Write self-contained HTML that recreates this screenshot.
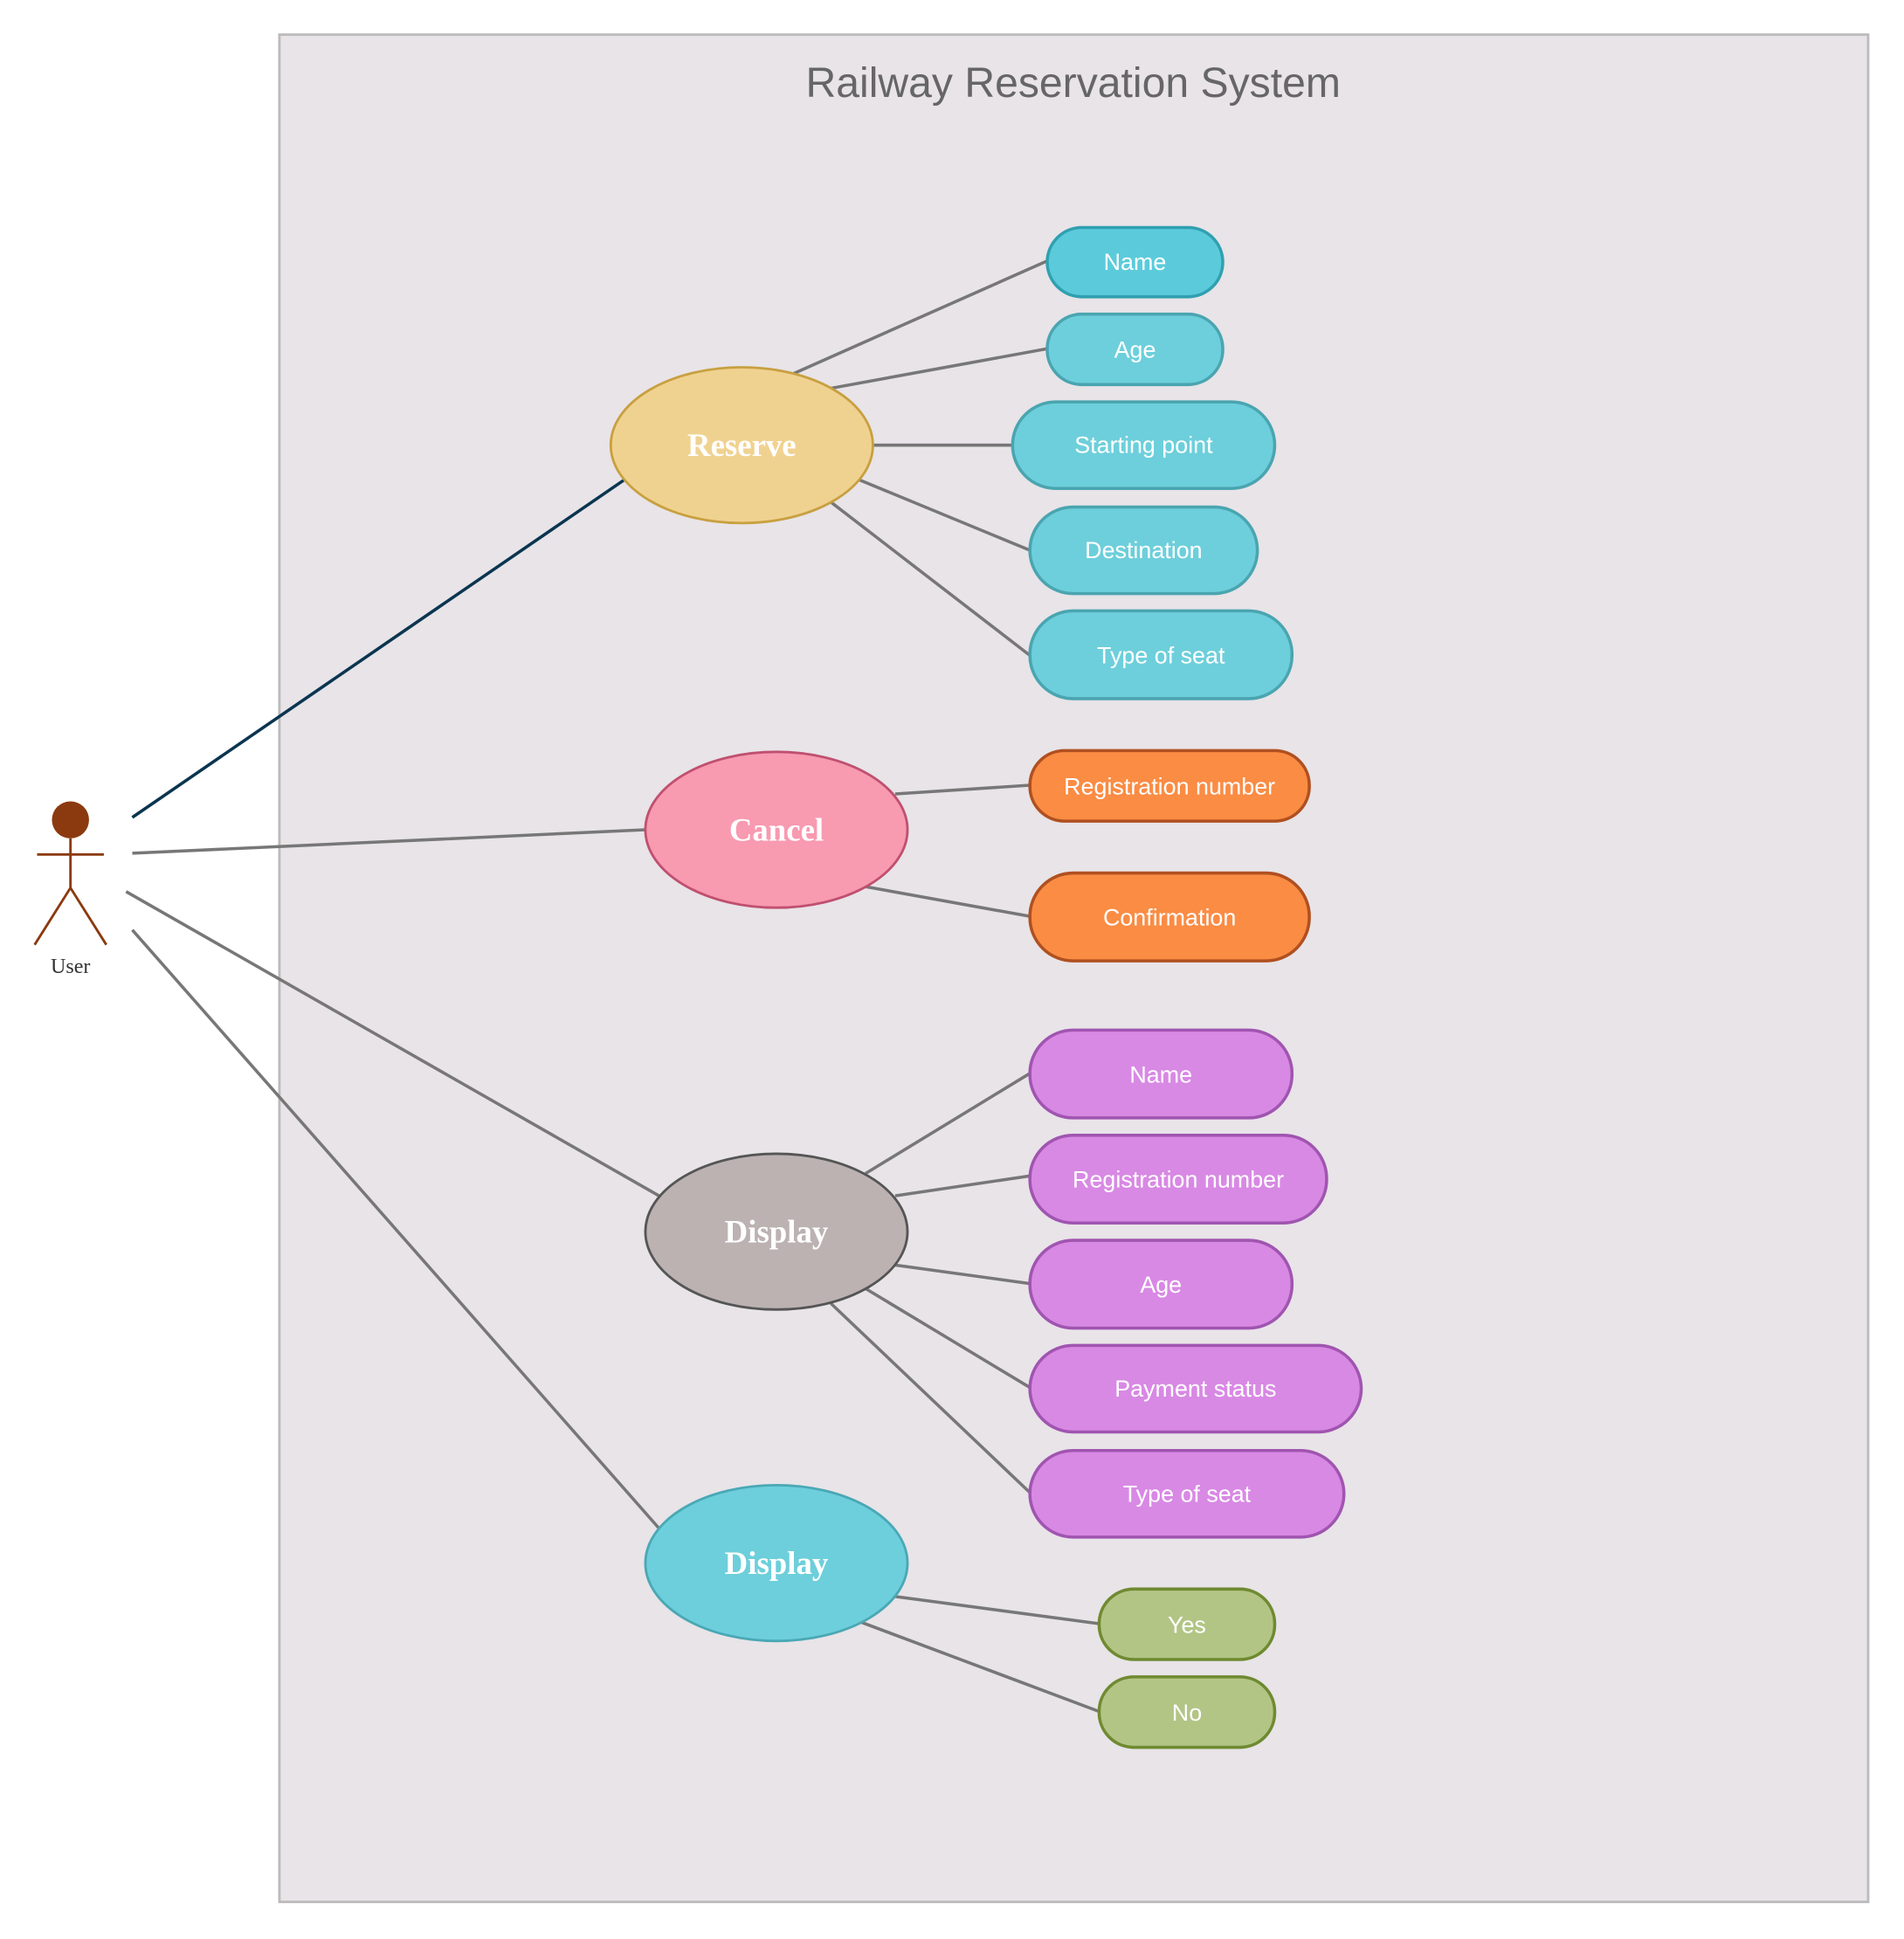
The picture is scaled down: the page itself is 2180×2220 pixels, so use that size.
<!DOCTYPE html>
<html><head><meta charset="utf-8"><style>
html,body{margin:0;padding:0;background:#fff;}
svg{display:block;}
.p text{font-family:"Liberation Sans",sans-serif;font-size:19px;fill:#fff;text-anchor:middle;dominant-baseline:central;}
.e{font-family:"Liberation Serif",serif;font-weight:bold;font-size:26px;fill:#fff;text-anchor:middle;dominant-baseline:central;}
.l{stroke:#777;stroke-width:2.5;}
</style></head><body>
<svg width="2180" height="2220" viewBox="0 0 1540 1568" preserveAspectRatio="none" xmlns="http://www.w3.org/2000/svg">
<rect x="226" y="28" width="1285" height="1510" fill="#e8e4e8" stroke="#bbb" stroke-width="2"/>
<text x="868" y="67" font-family="Liberation Sans,sans-serif" font-size="34" fill="#666" text-anchor="middle" dominant-baseline="central">Railway Reservation System</text>

<g stroke="#8b3a0f" stroke-width="2" fill="none">
<line x1="57" y1="678" x2="57" y2="718"/>
<line x1="30" y1="691" x2="84" y2="691"/>
<line x1="57" y1="718" x2="28" y2="764"/>
<line x1="57" y1="718" x2="86" y2="764"/>
</g>
<circle cx="57" cy="663" r="15" fill="#8b3a0f"/>
<text x="57" y="782" font-family="Liberation Serif,serif" font-size="17" fill="#333" text-anchor="middle" dominant-baseline="central">User</text>

<line x1="107" y1="661" x2="505" y2="388" stroke="#0a3550" stroke-width="2.5"/>
<line class="l" x1="107" y1="690" x2="522" y2="671"/>
<line class="l" x1="102" y1="721" x2="533" y2="967"/>
<line class="l" x1="107" y1="752" x2="534" y2="1237"/>

<line class="l" x1="642" y1="302" x2="847" y2="211"/>
<line class="l" x1="672" y1="314" x2="847" y2="282"/>
<line class="l" x1="706" y1="360" x2="819" y2="360"/>
<line class="l" x1="695" y1="388" x2="833" y2="445"/>
<line class="l" x1="672" y1="406" x2="833" y2="530"/>
<line class="l" x1="724" y1="642" x2="833" y2="635"/>
<line class="l" x1="700" y1="717" x2="833" y2="741"/>
<line class="l" x1="700" y1="949" x2="833" y2="868"/>
<line class="l" x1="724" y1="967" x2="846" y2="949"/>
<line class="l" x1="724" y1="1023" x2="833" y2="1038"/>
<line class="l" x1="700" y1="1042" x2="833" y2="1122"/>
<line class="l" x1="672" y1="1054" x2="833" y2="1207"/>
<line class="l" x1="724" y1="1291" x2="889" y2="1313"/>
<line class="l" x1="689" y1="1309" x2="889" y2="1384"/>

<ellipse cx="600" cy="360" rx="106" ry="63" fill="#f0d290" stroke="#c8a040" stroke-width="2"/>
<text class="e" x="600" y="360">Reserve</text>
<ellipse cx="628" cy="671" rx="106" ry="63" fill="#f89ab0" stroke="#c05070" stroke-width="2"/>
<text class="e" x="628" y="671">Cancel</text>
<ellipse cx="628" cy="996" rx="106" ry="63" fill="#bcb2b2" stroke="#555" stroke-width="2"/>
<text class="e" x="628" y="996">Display</text>
<ellipse cx="628" cy="1264" rx="106" ry="63" fill="#6dcfdb" stroke="#4aa8b5" stroke-width="2"/>
<text class="e" x="628" y="1264">Display</text>

<g class="p" stroke-width="2.5">
<rect x="847" y="184" width="142" height="56" rx="28" fill="#5bcbdb" stroke="#30a0b0"/><text x="918" y="212">Name</text>
<rect x="847" y="254" width="142" height="57" rx="28" fill="#6dcfdb" stroke="#4aa5b0"/><text x="918" y="283">Age</text>
<rect x="819" y="325" width="212" height="70" rx="35" fill="#6dcfdb" stroke="#4aa5b0"/><text x="925" y="360">Starting point</text>
<rect x="833" y="410" width="184" height="70" rx="35" fill="#6dcfdb" stroke="#4aa5b0"/><text x="925" y="445">Destination</text>
<rect x="833" y="494" width="212" height="71" rx="35" fill="#6dcfdb" stroke="#4aa5b0"/><text x="939" y="530">Type of seat</text>

<rect x="833" y="607" width="226" height="57" rx="28" fill="#fa8c44" stroke="#b05020"/><text x="946" y="636">Registration number</text>
<rect x="833" y="706" width="226" height="71" rx="35" fill="#fa8c44" stroke="#b05020"/><text x="946" y="742">Confirmation</text>

<rect x="833" y="833" width="212" height="71" rx="35" fill="#d889e4" stroke="#a055b0"/><text x="939" y="869">Name</text>
<rect x="833" y="918" width="240" height="71" rx="35" fill="#d889e4" stroke="#a055b0"/><text x="953" y="954">Registration number</text>
<rect x="833" y="1003" width="212" height="71" rx="35" fill="#d889e4" stroke="#a055b0"/><text x="939" y="1039">Age</text>
<rect x="833" y="1088" width="268" height="70" rx="35" fill="#d889e4" stroke="#a055b0"/><text x="967" y="1123">Payment status</text>
<rect x="833" y="1173" width="254" height="70" rx="35" fill="#d889e4" stroke="#a055b0"/><text x="960" y="1208">Type of seat</text>

<rect x="889" y="1285" width="142" height="57" rx="28" fill="#b2c585" stroke="#6f8a30"/><text x="960" y="1314">Yes</text>
<rect x="889" y="1356" width="142" height="57" rx="28" fill="#b2c585" stroke="#6f8a30"/><text x="960" y="1385">No</text>
</g>
</svg>
</body></html>
